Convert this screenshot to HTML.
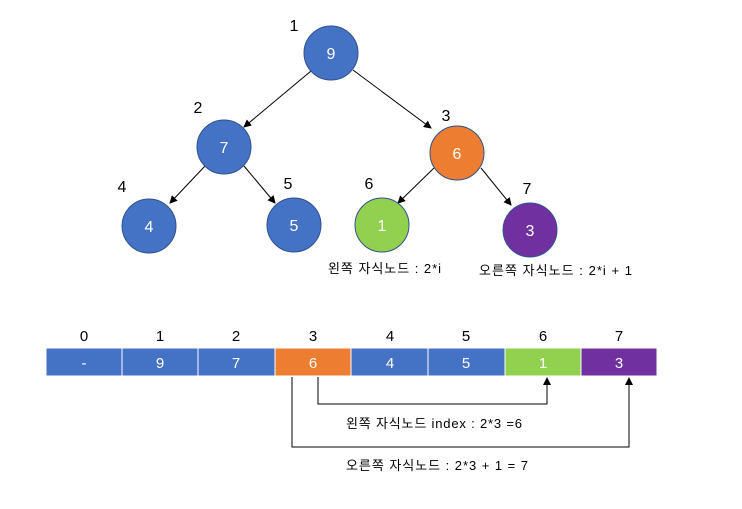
<!DOCTYPE html>
<html><head><meta charset="utf-8"><style>
body{margin:0;background:#fff;}
svg text{font-family:"Liberation Sans","Noto Sans CJK KR",sans-serif;}
</style></head><body>
<svg width="742" height="504" xmlns="http://www.w3.org/2000/svg">
<defs><marker id="a" markerWidth="8" markerHeight="8" refX="7" refY="4" orient="auto" markerUnits="userSpaceOnUse"><path d="M0,0 L8,4 L0,8 z" fill="#000"/></marker></defs>
<g stroke="#000" stroke-width="1" marker-end="url(#a)">
<line x1="311" y1="71" x2="244" y2="127"/>
<line x1="353" y1="70" x2="431" y2="128"/>
<line x1="205" y1="166" x2="170" y2="203"/>
<line x1="244" y1="166" x2="275" y2="203"/>
<line x1="434" y1="168" x2="398" y2="203"/>
<line x1="481" y1="168" x2="511" y2="205"/>
</g>
<g stroke="#2f528f" stroke-width="1">
<circle cx="331" cy="53" r="27" fill="#4472c4"/>
<circle cx="224" cy="147" r="27" fill="#4472c4"/>
<circle cx="457" cy="153" r="27" fill="#ed7d31"/>
<circle cx="149" cy="226" r="27" fill="#4472c4"/>
<circle cx="294" cy="225" r="27" fill="#4472c4"/>
<circle cx="382" cy="225" r="27" fill="#92d050"/>
<circle cx="530" cy="230" r="27" fill="#7030a0"/>
</g>
<g fill="#fff" font-size="16" text-anchor="middle">
<text x="331" y="59">9</text><text x="224" y="153">7</text><text x="457" y="159">6</text>
<text x="149" y="232">4</text><text x="294" y="231">5</text><text x="382" y="231">1</text><text x="530" y="236">3</text>
</g>
<g fill="#000" font-size="16" text-anchor="middle">
<text x="294" y="31">1</text><text x="198" y="113">2</text><text x="446" y="121">3</text>
<text x="122" y="192">4</text><text x="288" y="189">5</text><text x="369" y="189">6</text><text x="527" y="194">7</text>
</g>
<g font-size="13" fill="#000">
<text x="328" y="273" textLength="113" lengthAdjust="spacing">왼쪽 자식노드 : 2*i</text>
<text x="479" y="275" textLength="153" lengthAdjust="spacing">오른쪽 자식노드 : 2*i + 1</text>
</g>
<g stroke="#fff" stroke-width="1">
<rect x="46" y="348" width="76" height="28" fill="#4472c4"/>
<rect x="122" y="348" width="76" height="28" fill="#4472c4"/>
<rect x="198" y="348" width="77" height="28" fill="#4472c4"/>
<rect x="275" y="348" width="76" height="28" fill="#ed7d31"/>
<rect x="351" y="348" width="77" height="28" fill="#4472c4"/>
<rect x="428" y="348" width="77" height="28" fill="#4472c4"/>
<rect x="505" y="348" width="76" height="28" fill="#92d050"/>
<rect x="581" y="348" width="76" height="28" fill="#7030a0"/>
</g>
<g font-size="15" text-anchor="middle" fill="#fff">
<text x="84" y="368">-</text><text x="160" y="368">9</text><text x="236" y="368">7</text><text x="313" y="368">6</text>
<text x="390" y="368">4</text><text x="466" y="368">5</text><text x="543" y="368">1</text><text x="619" y="368">3</text>
</g>
<g font-size="15" text-anchor="middle" fill="#000">
<text x="84" y="341">0</text><text x="160" y="341">1</text><text x="236" y="341">2</text><text x="313" y="341">3</text>
<text x="390" y="341">4</text><text x="466" y="341">5</text><text x="543" y="341">6</text><text x="619" y="341">7</text>
</g>
<g fill="none" stroke="#000" stroke-width="1" marker-end="url(#a)">
<polyline points="318,377 318,404 547,404 547,378"/>
<polyline points="292,377 292,447 629,447 629,378"/>
</g>
<g font-size="13" fill="#000">
<text x="346" y="428" textLength="176" lengthAdjust="spacing">왼쪽 자식노드 index : 2*3 =6</text>
<text x="346" y="470" textLength="182" lengthAdjust="spacing">오른쪽 자식노드 : 2*3 + 1 = 7</text>
</g>
</svg>
</body></html>
